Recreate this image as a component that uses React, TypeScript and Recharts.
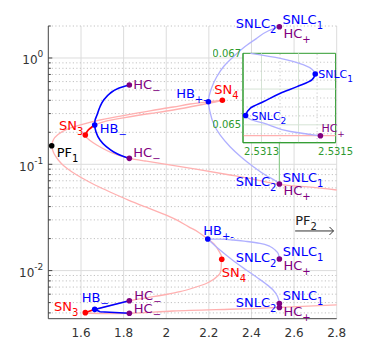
import React from "react";
import {
  ComposedChart,
  Line,
  Scatter,
  XAxis,
  YAxis,
  ReferenceLine,
  ReferenceArea
} from "recharts";

type Pt = { x: number; y: number };

const font = "DejaVu Sans";
const pink = "#ffb0b0";
const paleBlue = "#b0b0ff";
const blue = "#0000ff";
const red = "#ff0000";
const purple = "#800080";
const green = "#2e9a2e";

// equilibrium branch, traced from the upper right end round to the lower right end
const equilibriumBranch: Pt[] = [
  { x: 2.8, y: 0.0573 }, { x: 2.6657, y: 0.0612 }, { x: 2.531, y: 0.0646 }, { x: 2.4169, y: 0.0719 },
  { x: 2.2995, y: 0.0793 }, { x: 2.1399, y: 0.0899 }, { x: 1.9864, y: 0.1007 }, { x: 1.9005, y: 0.1074 },
  { x: 1.8268, y: 0.1138 }, { x: 1.7643, y: 0.1237 }, { x: 1.7207, y: 0.1349 }, { x: 1.6737, y: 0.1519 },
  { x: 1.6423, y: 0.1675 }, { x: 1.6258, y: 0.1787 }, { x: 1.6202, y: 0.1887 }, { x: 1.6258, y: 0.2035 },
  { x: 1.6423, y: 0.2196 }, { x: 1.6643, y: 0.2343 }, { x: 1.7127, y: 0.2538 }, { x: 1.7986, y: 0.2738 },
  { x: 1.9239, y: 0.3005 }, { x: 2.0333, y: 0.3242 }, { x: 2.1587, y: 0.3613 }, { x: 2.2291, y: 0.3856 },
  { x: 2.2634, y: 0.3999 }, { x: 2.2338, y: 0.3956 }, { x: 2.1977, y: 0.388 }, { x: 2.1117, y: 0.3692 },
  { x: 2.0333, y: 0.3459 }, { x: 1.9239, y: 0.3187 }, { x: 1.7986, y: 0.2877 }, { x: 1.6892, y: 0.2611 },
  { x: 1.6108, y: 0.2393 }, { x: 1.5329, y: 0.2135 }, { x: 1.492, y: 0.1906 }, { x: 1.4709, y: 0.1711 },
  { x: 1.4624, y: 0.1496 }, { x: 1.4653, y: 0.1393 }, { x: 1.4732, y: 0.1264 }, { x: 1.4934, y: 0.1098 },
  { x: 1.5202, y: 0.0964 }, { x: 1.5563, y: 0.0852 }, { x: 1.6047, y: 0.0743 }, { x: 1.6657, y: 0.0639 },
  { x: 1.7362, y: 0.0549 }, { x: 1.8221, y: 0.0461 }, { x: 1.9005, y: 0.0399 }, { x: 1.9789, y: 0.0346 },
  { x: 2.046, y: 0.0302 }, { x: 2.1038, y: 0.0259 }, { x: 2.1493, y: 0.0231 }, { x: 2.1948, y: 0.0198 },
  { x: 2.2244, y: 0.0178 }, { x: 2.2446, y: 0.0156 }, { x: 2.2573, y: 0.014 }, { x: 2.2606, y: 0.01277 },
  { x: 2.2582, y: 0.01129 }, { x: 2.2526, y: 0.00943 }, { x: 2.2244, y: 0.00834 }, { x: 2.1901, y: 0.0076 },
  { x: 2.1258, y: 0.00686 }, { x: 2.0648, y: 0.00633 }, { x: 1.9991, y: 0.00596 }, { x: 1.9394, y: 0.00568 },
  { x: 1.877, y: 0.00543 }, { x: 1.8268, y: 0.00521 }, { x: 1.7455, y: 0.00475 }, { x: 1.6643, y: 0.00432 },
  { x: 1.6376, y: 0.00415 }, { x: 1.6202, y: 0.00402 }, { x: 1.6423, y: 0.00397 }, { x: 1.8268, y: 0.00397 },
  { x: 2.0319, y: 0.00417 }, { x: 2.2995, y: 0.00433 }, { x: 2.531, y: 0.0045 }, { x: 2.8, y: 0.00475 }
];

const stableUpper: Pt[] = [{ x: 1.6202, y: 0.1887 }, { x: 1.6343, y: 0.21 }, { x: 1.6643, y: 0.2343 }];
const stableLower: Pt[] = [{ x: 1.6202, y: 0.00402 }, { x: 1.6643, y: 0.00432 }];

const cycleUpper: Pt[] = [
  { x: 1.8268, y: 0.557 }, { x: 1.7737, y: 0.5165 }, { x: 1.7362, y: 0.4655 }, { x: 1.708, y: 0.4071 },
  { x: 1.6892, y: 0.3481 }, { x: 1.6751, y: 0.2909 }, { x: 1.6657, y: 0.2582 }, { x: 1.6643, y: 0.2343 },
  { x: 1.6704, y: 0.2013 }, { x: 1.6892, y: 0.1693 }, { x: 1.7174, y: 0.1471 }, { x: 1.7516, y: 0.1314 },
  { x: 1.7878, y: 0.121 }, { x: 1.8268, y: 0.1138 }
];
const cycleLower: Pt[] = [
  { x: 1.8268, y: 0.00521 }, { x: 1.6643, y: 0.00432 }, { x: 1.6892, y: 0.0041 }, { x: 1.8268, y: 0.00397 }
];

const orbitUpper: Pt[] = [
  { x: 2.531, y: 1.97 }, { x: 2.4779, y: 1.795 }, { x: 2.4249, y: 1.532 }, { x: 2.37, y: 1.283 },
  { x: 2.315, y: 1.029 }, { x: 2.2714, y: 0.8408 }, { x: 2.2371, y: 0.6669 }, { x: 2.2127, y: 0.5223 },
  { x: 2.1977, y: 0.388 }, { x: 2.2056, y: 0.3105 }, { x: 2.2211, y: 0.243 }, { x: 2.2526, y: 0.1887 },
  { x: 2.2995, y: 0.1464 }, { x: 2.3512, y: 0.1172 }, { x: 2.4089, y: 0.0949 }, { x: 2.4685, y: 0.0784 },
  { x: 2.5108, y: 0.0704 }, { x: 2.531, y: 0.0653 }
];
const orbitLowerA: Pt[] = [
  { x: 2.1948, y: 0.0198 }, { x: 2.2526, y: 0.01974 }, { x: 2.315, y: 0.0194 }, { x: 2.3793, y: 0.01878 },
  { x: 2.4404, y: 0.01806 }, { x: 2.4873, y: 0.01685 }, { x: 2.5108, y: 0.01562 }, { x: 2.5263, y: 0.01433 },
  { x: 2.531, y: 0.01285 }
];
const orbitLowerB: Pt[] = [
  { x: 2.1948, y: 0.0198 }, { x: 2.2371, y: 0.01656 }, { x: 2.2808, y: 0.01402 }, { x: 2.331, y: 0.01171 },
  { x: 2.3793, y: 0.01002 }, { x: 2.4263, y: 0.00861 }, { x: 2.4685, y: 0.00748 }, { x: 2.5014, y: 0.00657 },
  { x: 2.5225, y: 0.00571 }, { x: 2.531, y: 0.0049 }
];

const zoomLink: Pt[] = [{ x: 2.531, y: 0.0653 }, { x: 2.531, y: 0.2 }];
const pf2Arrow: Pt[] = [{ x: 2.605, y: 0.0236 }, { x: 2.785, y: 0.0236 }];

const pfPoints: Pt[] = [{ x: 1.4624, y: 0.1496 }];
const snPoints: Pt[] = [
  { x: 1.6202, y: 0.1887 }, { x: 2.2634, y: 0.3999 }, { x: 2.2606, y: 0.01277 }, { x: 1.6202, y: 0.00402 }
];
const hbPoints: Pt[] = [
  { x: 1.6643, y: 0.2343 }, { x: 2.1977, y: 0.388 }, { x: 2.1948, y: 0.0198 }, { x: 1.6643, y: 0.00432 }
];
const hcPoints: Pt[] = [
  { x: 1.8268, y: 0.557 }, { x: 1.8268, y: 0.1138 }, { x: 2.531, y: 1.97 }, { x: 2.531, y: 0.0653 },
  { x: 2.531, y: 0.01285 }, { x: 2.531, y: 0.0049 }, { x: 2.531, y: 0.0045 }, { x: 1.8268, y: 0.00521 },
  { x: 1.8268, y: 0.00397 }
];

// inset (zoom near the upper SNLC point)
const insetOuter: Pt[] = [
  { x: 2.53127, y: 0.067 }, { x: 2.531351, y: 0.06686 }, { x: 2.531414, y: 0.066674 },
  { x: 2.531437, y: 0.066548 }, { x: 2.531445, y: 0.066422 }
];
const insetStable: Pt[] = [
  { x: 2.531445, y: 0.066422 }, { x: 2.531436, y: 0.066255 }, { x: 2.531396, y: 0.066068 },
  { x: 2.531351, y: 0.065884 }, { x: 2.531306, y: 0.06565 }, { x: 2.53127, y: 0.065466 },
  { x: 2.531257, y: 0.065259 }
];
const insetInner: Pt[] = [
  { x: 2.531257, y: 0.065259 }, { x: 2.53127, y: 0.065153 }, { x: 2.531306, y: 0.065047 },
  { x: 2.531378, y: 0.064813 }, { x: 2.531459, y: 0.064693 }
];
const insetEquilibrium: Pt[] = [{ x: 2.53125, y: 0.0647 }, { x: 2.5315, y: 0.0647 }];
const insetSnlc: Pt[] = [{ x: 2.531445, y: 0.066422 }, { x: 2.531257, y: 0.065259 }];
const insetHc: Pt[] = [{ x: 2.531459, y: 0.064693 }];

const xTicks = [1.6, 1.8, 2, 2.2, 2.4, 2.6, 2.8];
const yMajor = [0.01, 0.1, 1];
const yMinor = [0.004, 0.005, 0.006, 0.007, 0.008, 0.009, 0.02, 0.03, 0.04, 0.05, 0.06, 0.07, 0.08, 0.09,
  0.2, 0.3, 0.4, 0.5, 0.6, 0.7, 0.8, 0.9, 2];
const yLabels = ["-2", "-1", "0"];
const insetXTicks = [2.5313, 2.5315];
const insetYTicks = [0.065, 0.067];
const insetXMajor = [2.5313, 2.5314];
const insetXMinor = [2.53135, 2.53145];
const insetYMajor = [0.065, 0.066];
const insetYMinor = [0.06475, 0.06525, 0.0655, 0.06575, 0.06625, 0.0665, 0.06675];

type Tag = { at: Pt; text: string; sub: string; color: string; end?: boolean; dx: number; dy: number };

const tags: Tag[] = [
  { at: pfPoints[0], text: "PF", sub: "1", color: "#000", dx: 5, dy: 11 },
  { at: snPoints[0], text: "SN", sub: "3", color: red, end: true, dx: -2, dy: -5 },
  { at: snPoints[1], text: "SN", sub: "4", color: red, dx: -8, dy: -6 },
  { at: snPoints[2], text: "SN", sub: "4", color: red, dx: 0, dy: 17.5 },
  { at: snPoints[3], text: "SN", sub: "3", color: red, end: true, dx: -7, dy: -2 },
  { at: hbPoints[0], text: "HB", sub: "\u2212", color: blue, dx: 5, dy: 8 },
  { at: hbPoints[1], text: "HB", sub: "+-", color: blue, end: true, dx: -1.5, dy: -4 },
  { at: hbPoints[2], text: "HB", sub: "+-", color: blue, dx: -4.5, dy: -4 },
  { at: hbPoints[3], text: "HB", sub: "\u2212", color: blue, dx: -13, dy: -7.5 },
  { at: hcPoints[0], text: "HC", sub: "\u2212", color: purple, dx: 4, dy: 4 },
  { at: hcPoints[1], text: "HC", sub: "\u2212", color: purple, dx: 4, dy: -1 },
  { at: hcPoints[7], text: "HC", sub: "\u2212", color: purple, dx: 5, dy: -1 },
  { at: hcPoints[8], text: "HC", sub: "\u2212", color: purple, dx: 4.5, dy: 0 },
  { at: hcPoints[2], text: "SNLC", sub: "2", color: blue, end: true, dx: -3, dy: 1.6 },
  { at: hcPoints[2], text: "SNLC", sub: "1", color: blue, dx: 3, dy: -2.2 },
  { at: hcPoints[2], text: "HC", sub: "+", color: purple, dx: 4, dy: 11.2 },
  { at: hcPoints[3], text: "SNLC", sub: "2", color: blue, end: true, dx: -3, dy: 2 },
  { at: hcPoints[3], text: "SNLC", sub: "1", color: blue, dx: 3.4, dy: -1.5 },
  { at: hcPoints[3], text: "HC", sub: "+", color: purple, dx: 4, dy: 11.5 },
  { at: hcPoints[4], text: "SNLC", sub: "2", color: blue, end: true, dx: -3, dy: 3 },
  { at: hcPoints[4], text: "SNLC", sub: "1", color: blue, dx: 3.4, dy: -2.6 },
  { at: hcPoints[4], text: "HC", sub: "+", color: purple, dx: 4, dy: 10.8 },
  { at: hcPoints[5], text: "SNLC", sub: "2", color: blue, end: true, dx: -3, dy: 3.5 },
  { at: hcPoints[5], text: "SNLC", sub: "1", color: blue, dx: 3.4, dy: -3.5 },
  { at: hcPoints[5], text: "HC", sub: "+", color: purple, dx: 4, dy: 12.5 },
  { at: pf2Arrow[0], text: "PF", sub: "2", color: "#222", dx: 0, dy: -6 }
];

const insetTags: Tag[] = [
  { at: insetSnlc[0], text: "SNLC", sub: "1", color: blue, dx: 3, dy: 4 },
  { at: insetSnlc[1], text: "SNLC", sub: "2", color: blue, dx: 6, dy: 4.3 },
  { at: insetHc[0], text: "HC", sub: "+", color: purple, dx: 1, dy: -3.3 }
];

const tagData = tags.map((t) => ({ ...t.at, tag: t }));
const insetTagData = insetTags.map((t) => ({ ...t.at, tag: t }));

function makeTagShape(size: number, subSize: number) {
  return (p: any) => {
    const t: Tag = p.payload.tag;
    return (
      <text
        x={p.cx + t.dx}
        y={p.cy + t.dy}
        fill={t.color}
        fontSize={size}
        fontFamily={font}
        textAnchor={t.end ? "end" : "start"}
      >
        {t.text}
        <tspan fontSize={subSize} dy={size * 0.38}>{t.sub}</tspan>
      </text>
    );
  };
}

const dot = (r: number) => (p: any) => <circle cx={p.cx} cy={p.cy} r={r} fill={p.fill} />;

function LogTick(p: any) {
  const v = Number(p.payload.value);
  const k = yMajor.findIndex((m) => Math.abs(v / m - 1) < 1e-3);
  const major = k >= 0;
  return (
    <g>
      <line x1={p.x} x2={p.x + (major ? 4 : 2.5)} y1={p.y} y2={p.y} stroke="#444" />
      {major && (
        <text x={p.x - 5} y={p.y + 6.5} textAnchor="end" fontSize={12} fontFamily={font} fill="#333">
          10
          <tspan fontSize={9} dy={-7}>{yLabels[k]}</tspan>
        </text>
      )}
    </g>
  );
}

function XTick(p: any) {
  return (
    <text x={p.x} y={p.y + 18} textAnchor="middle" fontSize={12} fontFamily={font} fill="#333">
      {String(p.payload.value)}
    </text>
  );
}

function InsetXTick(p: any) {
  return (
    <text x={p.x} y={p.y + 12} textAnchor="middle" fontSize={10} fontFamily={font} fill={green}>
      {String(p.payload.value)}
    </text>
  );
}

function InsetYTick(p: any) {
  return (
    <text x={p.x - 2} y={p.y + 3.5} textAnchor="end" fontSize={10} fontFamily={font} fill={green}>
      {String(p.payload.value)}
    </text>
  );
}

function ArrowHead(p: any) {
  if (p.index !== 1) return <g key={p.index} />;
  return (
    <path
      key={p.index}
      d={`M${p.cx - 4},${p.cy - 4} L${p.cx},${p.cy} L${p.cx - 4},${p.cy + 4}`}
      stroke="#333"
      fill="none"
    />
  );
}

function MainChart() {
  return (
    <ComposedChart width={373} height={358} margin={{ top: 26, right: 36.3, bottom: 9.3, left: 0.3 }}>
      <XAxis
        dataKey="x"
        type="number"
        domain={[1.4465, 2.8]}
        ticks={xTicks}
        interval={0}
        tick={(p: any) => <XTick {...p} />}
        tickLine={false}
        tickSize={0}
        tickMargin={0}
        height={30}
        axisLine={{ stroke: "#444" }}
      />
      <YAxis
        dataKey="y"
        type="number"
        scale="log"
        domain={[0.003528, 2]}
        ticks={[...yMajor, ...yMinor].sort((a, b) => a - b)}
        interval={0}
        tick={(p: any) => <LogTick {...p} />}
        tickLine={false}
        tickSize={0}
        tickMargin={0}
        width={48}
        axisLine={{ stroke: "#444" }}
      />
      {xTicks.map((v) => (
        <ReferenceLine key={"gx" + v} x={v} stroke="#dcdcdc" strokeWidth={1} />
      ))}
      {yMinor.map((v) => (
        <ReferenceLine key={"my" + v} y={v} stroke="#c2c2c2" strokeDasharray="1.2 2.3" />
      ))}
      {yMajor.map((v) => (
        <ReferenceLine key={"gy" + v} y={v} stroke="#dcdcdc" strokeWidth={1} />
      ))}
      <Line data={zoomLink} dataKey="y" stroke="#8fcc8f" strokeWidth={1.2} dot={false} isAnimationActive={false} />
      <Line data={equilibriumBranch} dataKey="y" type="natural" stroke={pink} strokeWidth={1.3} dot={false} isAnimationActive={false} />
      <Line data={orbitUpper} dataKey="y" type="monotoneY" stroke={paleBlue} strokeWidth={1.3} dot={false} isAnimationActive={false} />
      <Line data={orbitLowerA} dataKey="y" type="monotoneY" stroke={paleBlue} strokeWidth={1.3} dot={false} isAnimationActive={false} />
      <Line data={orbitLowerB} dataKey="y" type="monotoneY" stroke={paleBlue} strokeWidth={1.3} dot={false} isAnimationActive={false} />
      <Line data={cycleUpper} dataKey="y" type="monotoneY" stroke={blue} strokeWidth={1.6} dot={false} isAnimationActive={false} />
      <Line data={cycleLower} dataKey="y" type="linear" stroke={blue} strokeWidth={1.6} dot={false} isAnimationActive={false} />
      <Line data={stableUpper} dataKey="y" type="natural" stroke={red} strokeWidth={1.6} dot={false} isAnimationActive={false} />
      <Line data={stableLower} dataKey="y" type="linear" stroke={red} strokeWidth={1.6} dot={false} isAnimationActive={false} />
      <Line data={pf2Arrow} dataKey="y" type="linear" stroke="#333" strokeWidth={1} dot={(p: any) => <ArrowHead key={p.index} {...p} />} isAnimationActive={false} />
      <Scatter data={pfPoints} fill="#000" shape={dot(2.8)} isAnimationActive={false} />
      <Scatter data={snPoints} fill={red} shape={dot(2.8)} isAnimationActive={false} />
      <Scatter data={hbPoints} fill={blue} shape={dot(2.8)} isAnimationActive={false} />
      <Scatter data={hcPoints} fill={purple} shape={dot(2.8)} isAnimationActive={false} />
      <Scatter data={tagData} shape={makeTagShape(13, 10)} isAnimationActive={false} />
    </ComposedChart>
  );
}

function InsetChart() {
  return (
    <ComposedChart width={160} height={125} margin={{ top: 8.3, right: 37.4, bottom: 8, left: 0 }}>
      <XAxis
        dataKey="x"
        type="number"
        domain={[2.53125, 2.5315]}
        ticks={insetXTicks}
        interval={0}
        tick={(p: any) => <InsetXTick {...p} />}
        tickLine={false}
        tickSize={0}
        tickMargin={0}
        height={19.3}
        axisLine={{ stroke: green }}
      />
      <YAxis
        dataKey="y"
        type="number"
        domain={[0.0645, 0.067]}
        ticks={insetYTicks}
        interval={0}
        tick={(p: any) => <InsetYTick {...p} />}
        tickLine={false}
        tickSize={0}
        tickMargin={0}
        width={30}
        axisLine={{ stroke: green }}
      />
      <ReferenceArea x1={2.53125} x2={2.5315} y1={0.0645} y2={0.067} fill="#fff" fillOpacity={1} stroke="none" />
      {insetXMajor.map((v) => (
        <ReferenceLine key={"ix" + v} x={v} stroke="#d5e3d5" />
      ))}
      {insetXMinor.map((v) => (
        <ReferenceLine key={"ixm" + v} x={v} stroke="#c8c8c8" strokeDasharray="1.2 2.3" />
      ))}
      {insetYMajor.map((v) => (
        <ReferenceLine key={"iy" + v} y={v} stroke="#d5e3d5" />
      ))}
      {insetYMinor.map((v) => (
        <ReferenceLine key={"iym" + v} y={v} stroke="#c8c8c8" strokeDasharray="1.2 2.3" />
      ))}
      <Line data={insetEquilibrium} dataKey="y" type="linear" stroke={pink} strokeWidth={1.3} dot={false} isAnimationActive={false} />
      <Line data={insetOuter} dataKey="y" type="monotoneY" stroke={paleBlue} strokeWidth={1.3} dot={false} isAnimationActive={false} />
      <Line data={insetInner} dataKey="y" type="monotoneY" stroke={paleBlue} strokeWidth={1.3} dot={false} isAnimationActive={false} />
      <Line data={insetStable} dataKey="y" type="monotoneY" stroke={blue} strokeWidth={1.6} dot={false} isAnimationActive={false} />
      <Scatter data={insetSnlc} fill={blue} shape={dot(2.8)} isAnimationActive={false} />
      <Scatter data={insetHc} fill={purple} shape={dot(2.8)} isAnimationActive={false} />
      <Scatter data={insetTagData} shape={makeTagShape(11, 9)} isAnimationActive={false} />
      <ReferenceArea x1={2.53125} x2={2.5315} y1={0.0645} y2={0.067} fill="none" stroke={green} strokeWidth={1} />
    </ComposedChart>
  );
}

export default function App() {
  return (
    <div style={{ position: "absolute", left: 0, top: 0, width: 373, height: 358, background: "#fff" }}>
      <div style={{ position: "absolute", left: 0, top: 0 }}>
        <MainChart />
      </div>
      <div style={{ position: "absolute", left: 212.7, top: 45 }}>
        <InsetChart />
      </div>
    </div>
  );
}
